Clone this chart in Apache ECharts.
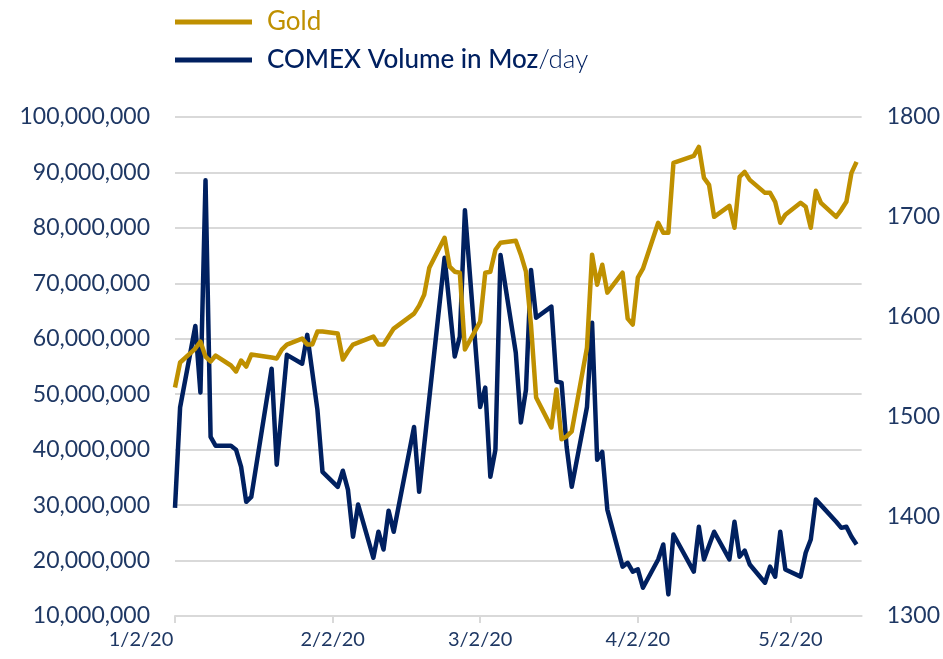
<!DOCTYPE html>
<html>
<head>
<meta charset="utf-8">
<script src="https://cdn.jsdelivr.net/npm/echarts@6/dist/echarts.min.js"></script>
<style>
html,body{margin:0;padding:0;background:#fff;}
#chart{width:943px;height:659px;}
</style>
</head>
<body>
<div id="chart"></div>
<script>
// ---- Data ----
const volumeDates = ['1/2','1/3','1/6','1/7','1/8','1/9','1/10','1/13','1/14','1/15','1/16','1/17','1/21','1/22','1/24','1/27','1/28','1/30','1/31',
  '2/3','2/4','2/5','2/6','2/7','2/10','2/11','2/12','2/13','2/14','2/18','2/19','2/24','2/26','2/27','2/28',
  '3/2','3/3','3/4','3/5','3/6','3/9','3/10','3/11','3/12','3/13','3/16','3/17','3/18','3/19','3/20','3/23','3/24','3/25','3/26','3/27','3/30','3/31',
  '4/1','4/2','4/3','4/6','4/7','4/8','4/9','4/13','4/14','4/15','4/16','4/17','4/20','4/21','4/22','4/23','4/24','4/27','4/28','4/29','4/30',
  '5/1','5/4','5/5','5/6','5/7','5/8','5/11','5/12','5/13','5/14','5/15'];
const volumeValues = [29.5,47.6,62.3,50.3,88.6,42.3,40.7,40.7,40.0,36.9,30.6,31.5,54.6,37.3,57.1,55.5,60.7,47.2,36.0,
  33.3,36.2,32.8,24.3,30.1,20.5,25.2,22.0,29.0,25.2,44.1,32.4,74.6,56.8,60.4,83.2,
  47.7,51.2,35.1,40.0,75.1,57.5,44.9,50.8,72.4,63.8,65.8,52.3,52.1,40.5,33.3,47.7,62.9,38.2,39.6,29.2,18.9,19.6,
  18.0,18.4,15.1,20.2,22.9,13.9,24.7,18.0,26.1,20.2,22.7,25.2,20.2,27.0,20.7,21.8,19.3,16.0,18.9,17.1,25.2,
  18.4,17.1,21.4,23.8,31.0,30.0,27.0,25.9,26.1,24.3,22.9]; // millions of oz

const goldDates = ['1/2','1/3','1/6','1/7','1/8','1/9','1/10','1/13','1/14','1/15','1/16','1/17','1/21','1/22','1/23','1/24','1/27','1/28','1/29','1/30','1/31',
  '2/3','2/4','2/5','2/6','2/7','2/10','2/11','2/12','2/13','2/14','2/18','2/19','2/20','2/21','2/24','2/25','2/26','2/27','2/28',
  '3/2','3/3','3/4','3/5','3/6','3/9','3/10','3/11','3/12','3/13','3/16','3/17','3/18','3/19','3/20','3/23','3/24','3/25','3/26','3/27','3/30','3/31',
  '4/1','4/2','4/3','4/6','4/7','4/8','4/9','4/13','4/14','4/15','4/16','4/17','4/20','4/21','4/22','4/23','4/24','4/27','4/28','4/29','4/30',
  '5/1','5/4','5/5','5/6','5/7','5/8','5/11','5/12','5/13','5/14','5/15'];
const goldValues = [1529,1554,1568,1575,1560,1555,1561,1551,1545,1556,1550,1562,1559,1558,1567,1572,1578,1572,1572,1585,1585,
  1583,1557,1565,1572,1574,1580,1572,1572,1580,1588,1603,1611,1622,1649,1679,1650,1645,1644,1567,
  1595,1644,1645,1667,1674,1676,1662,1645,1591,1519,1489,1527,1477,1480,1485,1569,1662,1632,1652,1624,1644,1598,
  1592,1639,1648,1694,1684,1684,1754,1761,1770,1739,1732,1700,1711,1689,1740,1745,1737,1724,1724,1715,1694,
  1702,1714,1710,1689,1726,1714,1700,1707,1715,1744,1755];

const tickDates = ['1/2','2/2','3/2','4/2','5/2'];

// ---- Build full daily category axis (1/2/2020 .. 5/16/2020) ----
const categories = [];
{
  const d = new Date(2020, 0, 2);
  const end = new Date(2020, 4, 16);
  while (d <= end) {
    categories.push((d.getMonth() + 1) + '/' + d.getDate());
    d.setDate(d.getDate() + 1);
  }
}
function alignSeries(dates, values, scale) {
  const arr = categories.map(() => null);
  dates.forEach((dt, i) => {
    const idx = categories.indexOf(dt);
    if (idx >= 0) arr[idx] = values[i] * scale;
  });
  return arr;
}
const volData = alignSeries(volumeDates, volumeValues, 1e6);
const goldData = alignSeries(goldDates, goldValues, 1);

const FONT = 'Lato';
const NAVY = '#002060';
const GOLD = '#BF9000';
const LABEL = '#1F3864';
const GRID = '#D9D9D9';

const chart = echarts.init(document.getElementById('chart'), null, {renderer: 'canvas'});
chart.setOption({
  animation: false,
  backgroundColor: '#ffffff',
  legend: {
    orient: 'vertical',
    left: 170,
    top: 4,
    icon: 'rect',
    itemWidth: 77,
    itemHeight: 5,
    itemGap: 12,
    textStyle: {fontFamily: FONT, fontSize: 26, padding: [0, 0, 0, 10]},
    data: [
      {name: 'Gold', textStyle: {color: GOLD}},
      {name: 'COMEX Volume in Moz/day', textStyle: {color: NAVY,
        rich: {
          a: {fontFamily: FONT, fontSize: 26, color: NAVY, fontWeight: 500},
          b: {fontFamily: FONT, fontSize: 26, color: NAVY, fontWeight: 300}
        }}}
    ],
    formatter: function (name) {
      if (name === 'Gold') return name;
      return '{a|COMEX Volume in Moz}{b|/day}';
    }
  },
  grid: {left: 175, right: 81, top: 117, bottom: 43, containLabel: false},
  xAxis: {
    type: 'category',
    data: categories,
    boundaryGap: false,
    axisLine: {show: true, lineStyle: {color: GRID, width: 2}},
    axisTick: {show: true, length: 7, lineStyle: {color: GRID, width: 2},
      interval: (i, v) => tickDates.indexOf(v) >= 0},
    axisLabel: {
      interval: (i, v) => tickDates.indexOf(v) >= 0,
      formatter: (v, i) => i === 0 ? '{first|' + v + '/20}' : v + '/20',
      rich: {first: {color: LABEL, fontFamily: FONT, fontSize: 20, padding: [0, 68, 0, 0]}},
      color: LABEL, fontFamily: FONT, fontSize: 20, margin: 14
    },
    splitLine: {show: false}
  },
  yAxis: [
    {
      type: 'value', min: 10e6, max: 100e6, interval: 10e6,
      axisLine: {show: false}, axisTick: {show: false},
      axisLabel: {color: LABEL, fontFamily: FONT, fontSize: 23, margin: 25,
        formatter: v => Math.round(v).toLocaleString('en-US')},
      splitLine: {show: true, lineStyle: {color: GRID, width: 2}}
    },
    {
      type: 'value', min: 1300, max: 1800, interval: 100,
      axisLine: {show: false}, axisTick: {show: false},
      axisLabel: {color: LABEL, fontFamily: FONT, fontSize: 23, margin: 25,
        formatter: v => String(Math.round(v))},
      splitLine: {show: false}
    }
  ],
  series: [
    {
      name: 'COMEX Volume in Moz/day', type: 'line', yAxisIndex: 0,
      data: volData, connectNulls: true, showSymbol: false, symbol: 'none',
      lineStyle: {color: NAVY, width: 4.5, join: 'round'}, itemStyle: {color: NAVY}, z: 2
    },
    {
      name: 'Gold', type: 'line', yAxisIndex: 1,
      data: goldData, connectNulls: true, showSymbol: false, symbol: 'none',
      lineStyle: {color: GOLD, width: 4.5, join: 'round'}, itemStyle: {color: GOLD}, z: 3
    }
  ]
});
</script>
</body>
</html>
